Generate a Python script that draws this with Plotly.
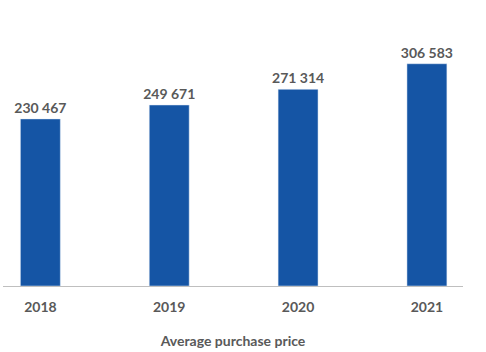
import plotly.graph_objects as go

years = ["2018", "2019", "2020", "2021"]
prices = [230467, 249671, 271314, 306583]
labels = ["230 467", "249 671", "271 314", "306 583"]

fig = go.Figure(go.Bar(
    x=years, y=prices, text=labels, textposition="outside",
    texttemplate="<b>%{text}</b>", constraintext="none",
    marker_color="#1555A5", width=0.31, cliponaxis=False,
    textfont=dict(family="Lato", size=14, color="#595959"),
))
fig.update_layout(
    width=486, height=352,
    margin=dict(l=3, r=23, t=10, b=66),
    paper_bgcolor="white", plot_bgcolor="white",
    showlegend=False,
    font=dict(family="Lato", color="#595959"),
    xaxis=dict(
        type="category", range=[-0.29, 3.28],
        showline=True, linecolor="#BFBFBF", linewidth=1,
        ticks="", ticklabelstandoff=8,
        tickprefix="<b>", ticksuffix="</b>",
        tickfont=dict(family="Lato", size=14, color="#595959"),
        title=dict(text="<b>Average purchase price</b>", standoff=22,
                   font=dict(family="Lato", size=14, color="#595959")),
    ),
    yaxis=dict(range=[0, 380700], visible=False),
)
fig.write_html("out.html")
